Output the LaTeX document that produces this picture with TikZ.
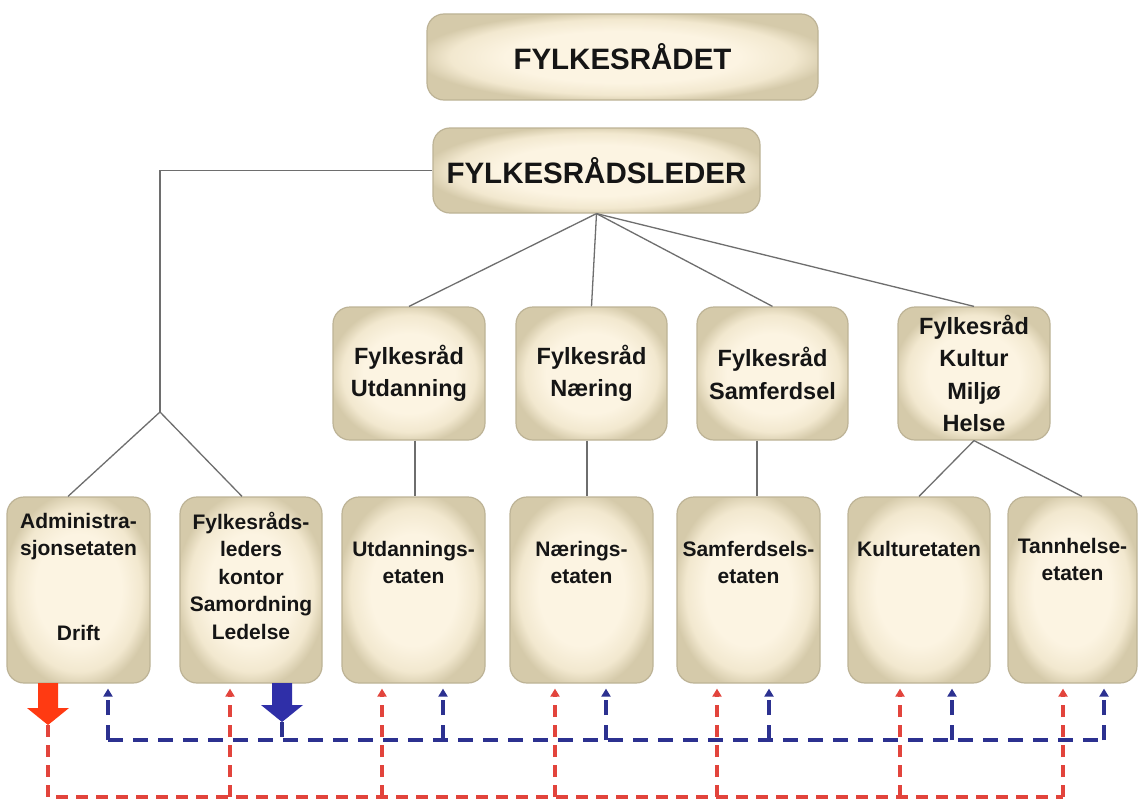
\documentclass[tikz,border=0pt]{standalone}
\usepackage{fontspec}
\setmainfont{Liberation Sans}
\usetikzlibrary{arrows.meta,calc}
\definecolor{boxin}{HTML}{FCF4E2}
\definecolor{boxmid}{HTML}{F2E8CF}
\definecolor{boxout}{HTML}{D5CAAA}
\definecolor{boxline}{HTML}{BDB396}
\definecolor{connc}{HTML}{6E6E6E}
\definecolor{dblue}{HTML}{2C3190}
\definecolor{dred}{HTML}{E2443C}
\definecolor{ared}{HTML}{FF3A12}
\definecolor{ablue}{HTML}{2F2FA8}
\definecolor{txt}{HTML}{151515}
\pgfdeclareradialshading{boxshade}{\pgfpoint{0bp}{0bp}}{color(0bp)=(boxin); color(15bp)=(boxin); color(22bp)=(boxmid); color(26.5bp)=(boxout); color(50bp)=(boxout)}
\newcommand\myftitle{\fontsize{29.5}{35}\selectfont\bfseries}
\newcommand\myfmid{\fontsize{23.5}{32.5}\selectfont\bfseries}
\newcommand\myfbot{\fontsize{21}{27.5}\selectfont\bfseries}
\tikzset{
  tanbox/.style={rounded corners=17pt, shade, shading=boxshade, draw=boxline, line width=1.2pt, inner sep=0pt, text=txt, align=center},
  topbox/.style={tanbox, font=\myftitle},
  midbox/.style={tanbox, font=\myfmid, minimum width=152pt, minimum height=133pt},
  botbox/.style={tanbox, minimum width=143pt, minimum height=186pt},
  bottext/.style={anchor=north, inner sep=0pt, text=txt, align=center, font=\myfbot},
  connline/.style={draw=connc, line width=1.3pt},
  bluedash/.style={draw=dblue, line width=3.2pt, dash pattern=on 15pt off 10pt},
  reddash/.style={draw=dred, line width=3.2pt, dash pattern=on 12pt off 8pt},
  bluetip/.style={-{Triangle[width=9pt,length=8pt]}, shorten >=5pt},
  redtip/.style={-{Triangle[width=9pt,length=8pt]}, shorten >=5pt},
}
\begin{document}
\begin{tikzpicture}[x=1pt,y=-1pt]
\useasboundingbox (0,0) rectangle (1139,800);
\fill[white] (0,0) rectangle (1139,800);

% top boxes
\node[topbox, minimum width=391pt, minimum height=86pt] (radet) at (622.5,57) {FYLKESRÅDET};
\node[topbox, minimum width=327pt, minimum height=85pt] (leader) at (596.5,170.5) {FYLKESRÅDSLEDER};

% middle boxes
\node[midbox] (mu) at (409,373.5) {Fylkesråd\\Utdanning};
\node[midbox, minimum width=151pt] (mn) at (591.5,373.5) {Fylkesråd\\Næring};
\node[midbox, minimum width=151pt] (ms) at (772.5,373.5) {Fylkesråd\\Samferdsel};
\node[midbox] (mk) at (974,373.5) {Fylkesråd\\Kultur\\Miljø\\Helse};

% bottom boxes
\node[botbox] (badm) at (78.5,590) {};
\node[botbox, minimum width=142pt] (bfyl) at (251,590) {};
\node[botbox] (butd) at (413.5,590) {};
\node[botbox] (bnar) at (581.5,590) {};
\node[botbox] (bsam) at (748.5,590) {};
\node[botbox, minimum width=142pt] (bkul) at (919,590) {};
\node[botbox, minimum width=129pt] (btan) at (1072.5,590) {};

% bottom texts
\node[bottext] (tadm) at (78.5,513) {Administra-\\sjonsetaten\\[57pt]Drift};
\node[bottext] (tfyl) at (251,512) {Fylkesråds-\\leders\\kontor\\Samordning\\Ledelse};
\node[bottext] (tutd) at (413.5,541) {Utdannings-\\etaten};
\node[bottext] (tnar) at (581.5,541) {Nærings-\\etaten};
\node[bottext] (tsam) at (748.5,541) {Samferdsels-\\etaten};
\node[bottext] (tkul) at (919,541) {Kulturetaten};
\node[bottext] (ttan) at (1072.5,538) {Tannhelse-\\etaten};

% tree connectors
\coordinate (split) at (160,412);
\coordinate (xa) at (68,0);
\coordinate (xf) at (242,0);
\coordinate (xu) at (415,0);
\coordinate (xn) at (587,0);
\coordinate (xs) at (757,0);
\coordinate (xt) at (1082,0);
\draw[connline] (leader.west) -| (split);
\draw[connline] (split) -- (badm.north -| xa);
\draw[connline] (split) -- (bfyl.north -| xf);
\draw[connline] (leader.south) -- (mu.north);
\draw[connline] (leader.south) -- (mn.north);
\draw[connline] (leader.south) -- (ms.north);
\draw[connline] (leader.south) -- (mk.north);
\draw[connline] (mu.south -| xu) -- (butd.north -| xu);
\draw[connline] (mn.south -| xn) -- (bnar.north -| xn);
\draw[connline] (ms.south -| xs) -- (bsam.north -| xs);
\draw[connline] (mk.south) -- (bkul.north);
\draw[connline] (mk.south) -- (btan.north -| xt);

% blue system
\coordinate (bt) at (282,722);
\fill[ablue] (272,683) -- (292,683) -- (292,705) -- (303,705) -- (bt) -- (261,705) -- (272,705) -- cycle;
\foreach \x/\b in {108/badm,443/butd,606/bnar,769/bsam,952/bkul,1104/btan}{
  \coordinate (bb\x) at (\x,740);
}
\draw[bluedash] (bb108) -- (bb1104);
\draw[bluedash] (bt) -- (bt |- bb108);
\foreach \x/\b in {108/badm,443/butd,606/bnar,769/bsam,952/bkul,1104/btan}{
  \draw[bluedash, bluetip] (bb\x) -- (\b.south -| bb\x);
}

% red system
\coordinate (rt) at (48,725);
\fill[ared] (38,683) -- (58,683) -- (58,708) -- (69,708) -- (rt) -- (27,708) -- (38,708) -- cycle;
\foreach \x/\b in {230/bfyl,382/butd,555/bnar,717/bsam,900/bkul,1063/btan}{
  \coordinate (rb\x) at (\x,797);
}
\draw[reddash] (rt) |- (rb1063);
\foreach \x/\b in {230/bfyl,382/butd,555/bnar,717/bsam,900/bkul,1063/btan}{
  \draw[reddash, redtip] (rb\x) -- (\b.south -| rb\x);
}
\end{tikzpicture}
\end{document}
